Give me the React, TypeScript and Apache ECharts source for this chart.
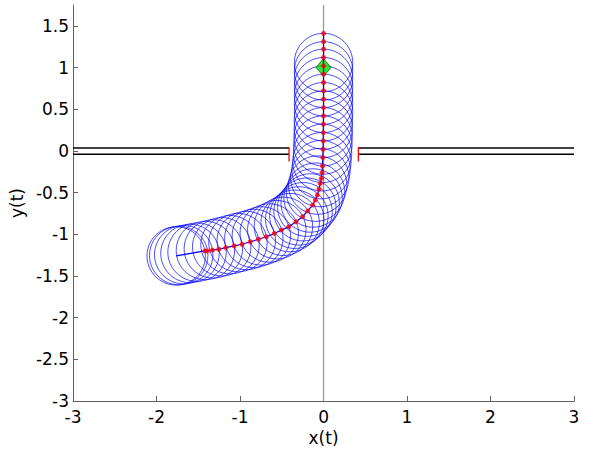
import React, { useEffect, useRef } from "react";
import * as echarts from "echarts";

// Front point of the body at each time step (x, y)
const frontPath: [number, number][] = [
  [-1.42, -1.2], [-1.39, -1.2], [-1.33, -1.19], [-1.255, -1.18], [-1.17, -1.16],
  [-1.07, -1.14], [-0.976, -1.12], [-0.877, -1.09], [-0.78, -1.06], [-0.685, -1.03],
  [-0.59, -0.99], [-0.505, -0.95], [-0.417, -0.91], [-0.33, -0.85], [-0.25, -0.79],
  [-0.19, -0.72], [-0.13, -0.65], [-0.098, -0.59], [-0.074, -0.53], [-0.054, -0.46],
  [-0.038, -0.39], [-0.026, -0.33], [-0.018, -0.26], [-0.013, -0.18], [-0.009, -0.08],
  [-0.006, 0.02], [-0.004, 0.12], [-0.003, 0.22], [-0.002, 0.32], [-0.001, 0.42],
  [0, 0.52], [0, 0.62], [0, 0.72], [0, 0.82], [0, 0.92],
  [0, 1.02], [0, 1.12], [0, 1.22], [0, 1.31], [0, 1.41],
];

// Body centre at each time step
const bodyCenters: [number, number][] = [
  [-1.765, -1.26], [-1.735, -1.255], [-1.675, -1.245], [-1.6, -1.23], [-1.515, -1.215],
  [-1.415, -1.195], [-1.32, -1.175], [-1.22, -1.15], [-1.12, -1.125], [-1.025, -1.1],
  [-0.925, -1.075], [-0.835, -1.05], [-0.745, -1.02], [-0.65, -0.985], [-0.56, -0.945],
  [-0.48, -0.905], [-0.4, -0.86], [-0.345, -0.82], [-0.295, -0.78], [-0.245, -0.73],
  [-0.2, -0.675], [-0.16, -0.625], [-0.125, -0.565], [-0.095, -0.495], [-0.07, -0.41],
  [-0.045, -0.32], [-0.03, -0.225], [-0.02, -0.13], [-0.012, -0.03], [-0.008, 0.07],
  [-0.005, 0.17], [-0.003, 0.27], [-0.002, 0.37], [0, 0.47], [0, 0.57],
  [0, 0.67], [0, 0.77], [0, 0.87], [0, 0.96], [0, 1.06],
];

const bodyRadius = 0.35;
const goal: [number, number] = [0, 1];

// Wall with a doorway
const wallLeftTop: [number, number][] = [[-3, 0.035], [-0.413, 0.035]];
const wallLeftBottom: [number, number][] = [[-3, -0.04], [-0.413, -0.04]];
const wallRightTop: [number, number][] = [[0.417, 0.035], [3, 0.035]];
const wallRightBottom: [number, number][] = [[0.417, -0.04], [3, -0.04]];
const doorLeft: [number, number][] = [[-0.413, 0.045], [-0.413, -0.128]];
const doorRight: [number, number][] = [[0.417, 0.045], [0.417, -0.128]];
const centerLine: [number, number][] = [[0, -3], [0, 1.75]];

const xTicks = [-3, -2, -1, 0, 1, 2, 3];
const yTicks = [-3, -2.5, -2, -1.5, -1, -0.5, 0, 0.5, 1, 1.5];

const FONT = "'DejaVu Sans', 'Liberation Sans', Arial, sans-serif";

export default function App() {
  const ref = useRef<HTMLDivElement>(null);

  useEffect(() => {
    if (!ref.current) return;
    const chart = echarts.init(ref.current, undefined, { renderer: "svg" });

    const trajectory = [bodyCenters[0], ...frontPath];

    const wall = (data: [number, number][], color: string, width: number) => ({
      type: "line",
      data,
      symbol: "none",
      silent: true,
      lineStyle: { color, width },
      z: 3,
    });

    chart.setOption({
      animation: false,
      backgroundColor: "#ffffff",
      grid: { left: 73, right: 15, top: 5, bottom: 52, containLabel: false },
      xAxis: {
        type: "value",
        min: -3,
        max: 3,
        interval: 1,
        name: "x(t)",
        nameLocation: "middle",
        nameGap: 24,
        nameTextStyle: { fontSize: 17, color: "#000", fontFamily: FONT },
        axisLine: { onZero: false, lineStyle: { color: "#606060", width: 1 } },
        axisTick: { inside: true, length: 5, lineStyle: { color: "#606060" }, customValues: xTicks },
        axisLabel: { fontSize: 17, color: "#000", fontFamily: FONT, margin: 7, customValues: xTicks },
        splitLine: { show: false },
      },
      yAxis: {
        type: "value",
        min: -3,
        max: 1.75,
        interval: 0.5,
        name: "y(t)",
        nameLocation: "middle",
        nameGap: 46,
        nameTextStyle: { fontSize: 17, color: "#000", fontFamily: FONT },
        axisLine: { onZero: false, lineStyle: { color: "#606060", width: 1 } },
        axisTick: { inside: true, length: 5, lineStyle: { color: "#606060" }, customValues: yTicks },
        axisLabel: { fontSize: 17, color: "#000", fontFamily: FONT, margin: 4, customValues: yTicks },
        splitLine: { show: false },
      },
      series: [
        {
          type: "line",
          data: centerLine,
          symbol: "none",
          silent: true,
          lineStyle: { color: "#9a9a9a", width: 1.3 },
          z: 1,
        },
        wall(wallLeftTop, "#000", 1.3),
        wall(wallLeftBottom, "#000", 1.3),
        wall(wallRightTop, "#000", 1.3),
        wall(wallRightBottom, "#000", 1.3),
        wall(doorLeft, "#ff0000", 1.3),
        wall(doorRight, "#ff0000", 1.3),
        {
          type: "custom",
          data: bodyCenters,
          silent: true,
          z: 4,
          renderItem: (_params: any, api: any) => {
            const c = api.coord([api.value(0), api.value(1)]);
            const s = api.size([bodyRadius, bodyRadius]);
            return {
              type: "circle",
              shape: { cx: c[0], cy: c[1], r: s[0] },
              style: { fill: "none", stroke: "#0000ff", lineWidth: 0.7 },
            };
          },
        },
        {
          type: "scatter",
          data: [goal],
          symbol: "diamond",
          symbolSize: [15, 18],
          itemStyle: { color: "#00e000", borderColor: "#004000", borderWidth: 0.8 },
          z: 5,
        },
        {
          type: "line",
          data: trajectory,
          symbol: "none",
          silent: true,
          lineStyle: { color: "#0000ff", width: 1.2 },
          z: 6,
        },
        {
          type: "scatter",
          data: frontPath,
          symbol: "circle",
          symbolSize: 5,
          itemStyle: { color: "#ff0000" },
          z: 7,
        },
      ],
    });

    return () => chart.dispose();
  }, []);

  return (
    <div
      ref={ref}
      style={{ position: "fixed", left: 0, top: 0, width: 589, height: 453, background: "#fff" }}
    />
  );
}
